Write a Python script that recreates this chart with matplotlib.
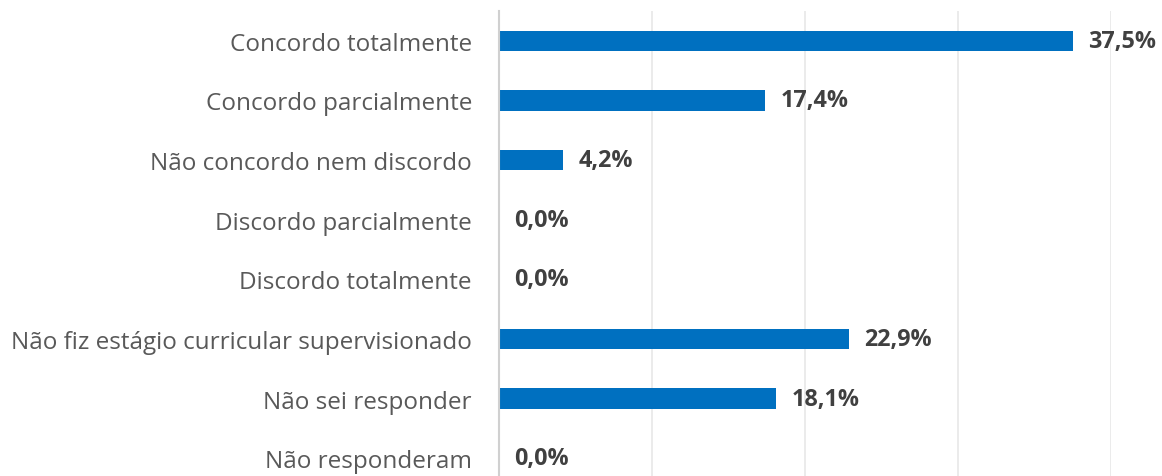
import matplotlib

matplotlib.use("Agg")
import matplotlib.pyplot as plt

categories = [
    "Concordo totalmente",
    "Concordo parcialmente",
    "Não concordo nem discordo",
    "Discordo parcialmente",
    "Discordo totalmente",
    "Não fiz estágio curricular supervisionado",
    "Não sei responder",
    "Não responderam",
]
values = [37.5, 17.4, 4.2, 0.0, 0.0, 22.9, 18.1, 0.0]
labels = ["37,5%", "17,4%", "4,2%", "0,0%", "0,0%", "22,9%", "18,1%", "0,0%"]

plt.rcParams["font.family"] = ["Open Sans", "DejaVu Sans"]

fig = plt.figure(figsize=(11.62, 4.77), dpi=100)
# bottom of the plot area falls just outside the image, as in the original
ax = fig.add_axes([499 / 1162, 1 - 489 / 477, (1111 - 499) / 1162, (489 - 12) / 477])

y = range(len(categories))
ax.barh(y, values, height=0.345, color="#0070C0", zorder=3)

for yi, v, lab in zip(y, values, labels):
    ax.text(v + 1.0, yi, lab, va="center", ha="left", fontsize=16.8,
            fontweight="bold", color="#404040")

ax.set_xlim(0, 40)
ax.set_ylim(len(categories) - 0.5, -0.5)
ax.set_yticks(list(y))
ax.set_yticklabels(categories, fontsize=17.5, color="#595959")
ax.set_xticks([10, 20, 30, 40])
ax.tick_params(axis="y", length=0, pad=19.5)
ax.tick_params(axis="x", length=0, labelbottom=False)
ax.grid(axis="x", color="#E6E6E6", linewidth=1.1, zorder=0)
for side in ["top", "right", "bottom"]:
    ax.spines[side].set_visible(False)
ax.spines["left"].set_color("#D0D0D0")
ax.spines["left"].set_linewidth(1.5)
ax.spines["left"].set_zorder(4)

fig.savefig("out.png", dpi=100)
